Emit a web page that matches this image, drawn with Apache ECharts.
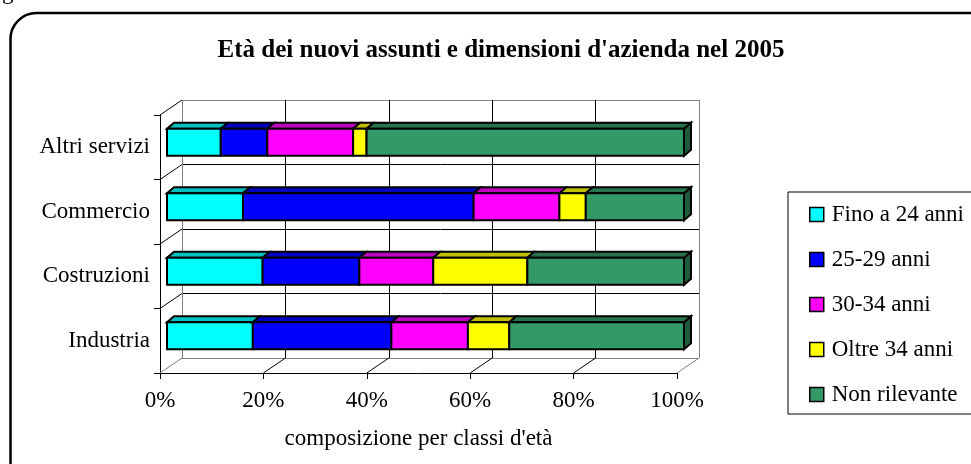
<!DOCTYPE html>
<html>
<head>
<meta charset="utf-8">
<script src="https://cdn.jsdelivr.net/npm/echarts@6/dist/echarts.min.js"></script>
<style>
	html, body {
		margin: 0;
		padding: 0;
		background: #fff;
	}

	#chart {
		width: 971px;
		height: 464px;
	}
</style>
</head>
<body>
<div id="chart"></div>
<script>
	// categorie (dal basso verso l'alto, come l'asse di ECharts)
	var settori = ['Industria', 'Costruzioni', 'Commercio', 'Altri servizi'];
	// composizione per classi d'età (%)
	var fino24 = [16.6, 18.5, 14.7, 10.4];
	var anni2529 = [26.8, 18.7, 44.6, 9.0];
	var anni3034 = [14.8, 14.3, 16.6, 16.6];
	var oltre34 = [8.0, 18.2, 5.1, 2.6];
	var nonRilevante = [33.8, 30.3, 19.0, 61.4];
	// tacche asse x
	var tickX = [0, 20, 40, 60, 80, 100];

	var nomi = ['Fino a 24 anni', '25-29 anni', '30-34 anni', 'Oltre 34 anni', 'Non rilevante'];
	var valori = [fino24, anni2529, anni3034, oltre34, nonRilevante];
	var colori = ['#00FFFF', '#0000FF', '#FF00FF', '#FFFF00', '#339966'];
	var coloriTop = ['#00C0C0', '#0000C0', '#C000C0', '#C0C000', '#26734D'];
	var coloriLato = ['#009999', '#000099', '#990099', '#999900', '#1F5C3D'];

	var font = '"Liberation Serif", "Times New Roman", serif';
	// profondità 3D
	var DX = 22, DY = -15;   // parete frontale -> parete di fondo
	var BX = 7, BY = -6;     // profondità della barra
	var BH = 27;             // altezza barra

	// tabella impilata [inizio, fine, indice categoria]
	var cumul = settori.map(function () { return 0; });
	var series = [];
	valori.forEach(function (arr, k) {
		var data = [];
		arr.forEach(function (v, i) {
			data.push([cumul[i], cumul[i] + v, i]);
			cumul[i] += v;
		});
		series.push({
			name: nomi[k],
			type: 'custom',
			xAxisIndex: 1,
			yAxisIndex: 1,
			itemStyle: { color: colori[k], borderColor: '#000', borderWidth: 1.5 },
			encode: { x: [0, 1], y: 2 },
			z: 10 + k,
			data: data,
			renderItem: function (params, api) {
				var p0 = api.coord([api.value(0), api.value(2)]);
				var p1 = api.coord([api.value(1), api.value(2)]);
				var top = p0[1] - BH / 2, bot = p0[1] + BH / 2;
				var x0 = p0[0], x1 = p1[0];
				var ch = [];
				if (k === valori.length - 1) {
					ch.push({
						type: 'polygon',
						shape: { points: [[x1, top], [x1 + BX, top + BY], [x1 + BX, bot + BY], [x1, bot]] },
						style: { fill: coloriLato[k], stroke: '#000', lineWidth: 2 }
					});
				}
				ch.push({
					type: 'polygon',
					shape: { points: [[x0, top], [x0 + BX, top + BY], [x1 + BX, top + BY], [x1, top]] },
					style: { fill: coloriTop[k], stroke: '#000', lineWidth: 2 }
				});
				ch.push({
					type: 'rect',
					shape: { x: x0, y: top, width: x1 - x0, height: BH },
					style: { fill: colori[k], stroke: '#000', lineWidth: 2 }
				});
				return { type: 'group', children: ch };
			}
		});
	});

	// pavimento e parete sinistra (diagonali)
	series.unshift({
		type: 'custom',
		xAxisIndex: 2,
		yAxisIndex: 2,
		z: 5,
		silent: true,
		data: [[0, 0]],
		renderItem: function (params, api) {
			var band = api.size([0, 1])[1];
			var yBot = api.coord([0, 0])[1] + band / 2;
			var ch = [];
			tickX.forEach(function (v, i) {
				var x = api.coord([v, 0])[0];
				ch.push({
					type: 'line',
					shape: { x1: x, y1: yBot, x2: x + DX, y2: yBot + DY },
					style: { stroke: (i === 0 || i === tickX.length - 1) ? '#808080' : '#000', lineWidth: 1 }
				});
			});
			var x0 = api.coord([0, 0])[0];
			for (var j = 1; j <= settori.length; j++) {
				var y = yBot - band * j;
				ch.push({
					type: 'line',
					shape: { x1: x0, y1: y, x2: x0 + DX, y2: y + DY },
					style: { stroke: '#000', lineWidth: 1 }
				});
			}
			return { type: 'group', children: ch };
		}
	});

	var chart = echarts.init(document.getElementById('chart'));
	var option = {
		backgroundColor: '#fff',
		animation: false,
		title: {
			text: "Età dei nuovi assunti e dimensioni d'azienda nel 2005",
			left: 496,
			top: 33,
			textAlign: 'center',
			textStyle: { fontFamily: font, fontSize: 25, fontWeight: 'bold', color: '#000' }
		},
		graphic: [
			{
				type: 'rect',
				z: 0,
				shape: { x: 10.5, y: 13, width: 990, height: 475, r: 26 },
				style: { fill: 'none', stroke: '#000', lineWidth: 2.5 }
			},
			{
				type: 'text',
				x: 2,
				y: -7,
				style: { text: 'g', font: '23px "Liberation Serif"', fill: '#000', textVerticalAlign: 'middle' }
			}
		],
		legend: {
			data: nomi,
			orient: 'vertical',
			left: 788,
			top: 192,
			icon: 'rect',
			itemWidth: 14,
			itemHeight: 14,
			itemGap: 22,
			padding: [11, 60, 8, 21],
			borderColor: '#000',
			borderWidth: 1,
			selectedMode: false,
			itemStyle: { borderColor: '#000', borderWidth: 1.5 },
			textStyle: { fontFamily: font, fontSize: 23, color: '#000', lineHeight: 23, padding: [0, 0, 0, 3] }
		},
		grid: [
			{ left: 182, top: 100, width: 517, height: 258 },
			{ left: 167, top: 110, width: 517, height: 258 },
			{ left: 160, top: 115, width: 517, height: 258 }
		],
		xAxis: [
			{
				gridIndex: 0, type: 'value', min: 0, max: 100, interval: 20,
				axisLine: { show: false }, axisTick: { show: false }, axisLabel: { show: false },
				splitLine: { show: true, lineStyle: { color: ['#808080', '#000', '#000', '#000', '#000', '#808080'], width: 1 } }
			},
			{ gridIndex: 1, type: 'value', min: 0, max: 100, interval: 20, show: false },
			{
				gridIndex: 2, type: 'value', min: 0, max: 100, interval: 20,
				axisLine: { show: true, lineStyle: { color: '#000', width: 1 } },
				axisTick: { show: true, length: 6, lineStyle: { color: '#000' } },
				splitLine: { show: false },
				axisLabel: {
					formatter: '{value}%', margin: 16,
					fontFamily: font, fontSize: 23, color: '#000'
				},
				name: "composizione per classi d'età",
				nameLocation: 'middle',
				nameGap: 54,
				nameTextStyle: { fontFamily: font, fontSize: 23, color: '#000' }
			}
		],
		yAxis: [
			{
				gridIndex: 0, type: 'category', data: settori,
				axisLine: { show: false }, axisTick: { show: false }, axisLabel: { show: false },
				splitLine: { show: true, lineStyle: { color: ['#808080', '#000', '#000', '#000', '#808080'], width: 1 } }
			},
			{ gridIndex: 1, type: 'category', data: settori, show: false },
			{
				gridIndex: 2, type: 'category', data: settori,
				axisLine: { show: true, lineStyle: { color: '#000', width: 1 } },
				axisTick: { show: true, length: 6, lineStyle: { color: '#000' } },
				splitLine: { show: false },
				axisLabel: { margin: 10, fontFamily: font, fontSize: 23, color: '#000' }
			}
		],
		series: series
	};
	chart.setOption(option);
</script>
</body>
</html>
